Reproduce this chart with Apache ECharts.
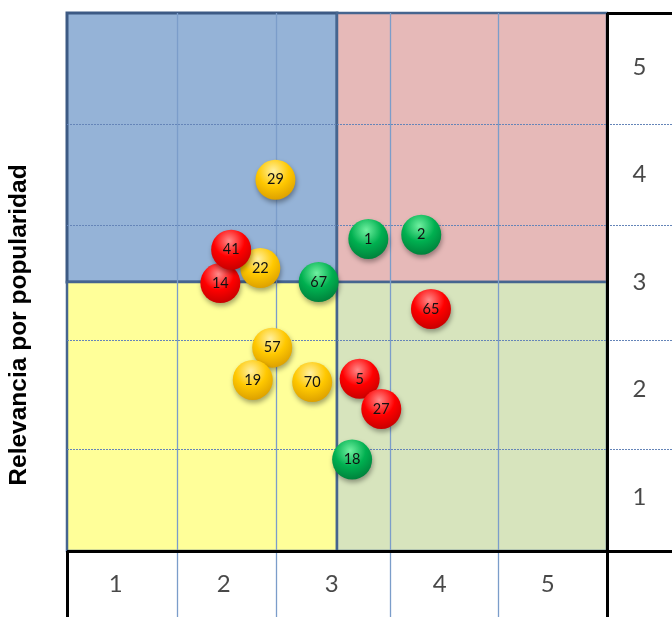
<!DOCTYPE html>
<html>
<head>
<meta charset="utf-8">
<script src="https://cdn.jsdelivr.net/npm/echarts@6/dist/echarts.min.js"></script>
<style>
html,body{margin:0;padding:0;background:#fff;}
#c{width:672px;height:617px;}
</style>
</head>
<body>
<div id="c"></div>
<script>
// ---- data ----
const xTicks = ['1', '2', '3', '4', '5'];
const yTicks = ['1', '2', '3', '4', '5'];
const yTitle = 'Relevancia por popularidad';

const amarilloIds = ['29', '22', '57', '19', '70'];
const amarilloX = [1.93, 1.79, 1.90, 1.72, 2.27];
const amarilloY = [3.45, 2.63, 1.89, 1.59, 1.57];

const rojoIds = ['14', '41', '65', '5', '27'];
const rojoX = [1.42, 1.52, 3.37, 2.71, 2.91];
const rojoY = [2.49, 2.80, 2.25, 1.60, 1.32];

const verdeIds = ['67', '1', '2', '18'];
const verdeX = [2.33, 2.79, 3.28, 2.64];
const verdeY = [2.50, 2.90, 2.94, 0.85];

// ---- chart ----
const N = xTicks.length;           // 5 cells each way
const MID = N / 2;                 // quadrant divider
const X_MAX = 5.6019;              // extra column for right labels
const Y_MIN = -0.6134;             // extra row for bottom labels
// cell borders as drawn in the original sheet (slightly uneven)
const vGrid = [1.02, 1.94, 2.99, 3.99];
const hGrid = [0.95, 1.96, 3.03, 3.97];

function sphere(light, main, dark) {
  return new echarts.graphic.RadialGradient(0.45, 0.28, 0.78, [
    { offset: 0, color: light },
    { offset: 0.5, color: main },
    { offset: 1, color: dark }
  ]);
}
function pts(xs, ys, ids) { return xs.map((x, i) => [x, ys[i], ids[i]]); }

function bubbleSeries(name, xs, ys, ids, fill) {
  return {
    name: name, type: 'scatter', z: 10, silent: true,
    symbolSize: 40,
    data: pts(xs, ys, ids),
    itemStyle: {
      color: fill, opacity: 1,
      shadowColor: 'rgba(0,0,0,0.35)', shadowBlur: 5, shadowOffsetX: 1, shadowOffsetY: 3
    },
    label: {
      show: true, position: 'inside', formatter: p => p.value[2],
      color: '#111', fontSize: 14.5, fontFamily: 'Lato'
    }
  };
}

const vLines = vGrid.map(v => ({ xAxis: v }));
const hLines = hGrid.map(v => ({ yAxis: v }));

const blackStyle = { color: '#000', width: 3, type: 'solid' };
const frameLines = [
  { xAxis: N, lineStyle: blackStyle },
  [{ coord: [N, N], lineStyle: blackStyle }, { coord: [X_MAX, N] }],
  [{ coord: [0, 0], lineStyle: blackStyle }, { coord: [X_MAX, 0] }],
  [{ coord: [0, 0], lineStyle: blackStyle }, { coord: [0, Y_MIN] }]
];

const quadBorder = '#46658f';
const quads = [
  [{ coord: [0, MID], itemStyle: { color: '#95b3d7', borderColor: '#3d5a84', borderWidth: 3 } }, { coord: [MID, N] }],
  [{ coord: [MID, MID], itemStyle: { color: '#e6b9b8', borderColor: quadBorder, borderWidth: 2.5 } }, { coord: [N, N] }],
  [{ coord: [0, 0], itemStyle: { color: '#ffff99', borderColor: quadBorder, borderWidth: 2.5 } }, { coord: [MID, MID] }],
  [{ coord: [MID, 0], itemStyle: { color: '#d7e4bd', borderColor: quadBorder, borderWidth: 2.5 } }, { coord: [N, MID] }]
];

const rightLabelX = (N + X_MAX) / 2;
const bottomLabelY = Y_MIN / 2;
const tickLabelData = [
  ...xTicks.map((t, i) => [i + 0.45, bottomLabelY, t]),
  ...yTicks.map((t, i) => [rightLabelX, i + 0.5, t])
];

const chart = echarts.init(document.getElementById('c'), null, { renderer: 'canvas' });
chart.setOption({
  animation: false,
  backgroundColor: '#fff',
  grid: { left: 67, top: 13, right: 0, bottom: 0, containLabel: false, outerBoundsMode: 'none' },
  xAxis: {
    type: 'value', min: 0, max: X_MAX,
    axisLine: { show: false }, axisTick: { show: false },
    axisLabel: { show: false }, splitLine: { show: false }
  },
  yAxis: {
    type: 'value', min: Y_MIN, max: N,
    axisLine: { show: false }, axisTick: { show: false },
    axisLabel: { show: false }, splitLine: { show: false },
    name: yTitle, nameLocation: 'middle', nameGap: 35, nameRotate: 90,
    nameTextStyle: { fontFamily: 'Liberation Sans', fontWeight: 'bold', fontSize: 24.5, color: '#000', padding: [0, 20, 0, 0] }
  },
  series: [
    {
      type: 'line', data: [], silent: true, z: 1,
      markArea: { silent: true, data: quads, z: 1 }
    },
    {
      type: 'line', data: [], silent: true, z: 2,
      markLine: {
        silent: true, symbol: 'none', label: { show: false },
        lineStyle: { color: '#7b9dca', width: 1.3, type: 'solid' },
        data: vLines
      }
    },
    {
      type: 'line', data: [], silent: true, z: 2,
      markLine: {
        silent: true, symbol: 'none', label: { show: false },
        lineStyle: { color: '#6585b8', width: 1, type: [2, 1] },
        data: hLines
      }
    },
    {
      type: 'line', data: [], silent: true, z: 3,
      markLine: {
        silent: true, symbol: 'none', label: { show: false },
        data: frameLines
      }
    },
    {
      type: 'scatter', silent: true, z: 4, symbolSize: 1,
      itemStyle: { color: 'rgba(0,0,0,0)' },
      data: tickLabelData,
      label: {
        show: true, position: 'inside', formatter: p => p.value[2],
        color: '#1a1a1a', fontSize: 24, fontFamily: 'Lato'
      }
    },
    bubbleSeries('amarillo', amarilloX, amarilloY, amarilloIds, sphere('#fff0a0', '#ffc800', '#d79a00')),
    bubbleSeries('rojo', rojoX, rojoY, rojoIds, sphere('#ff8a8a', '#ff0000', '#bf0000')),
    bubbleSeries('verde', verdeX, verdeY, verdeIds, sphere('#70f0a0', '#00b050', '#007a38'))
  ]
});
</script>
</body>
</html>
